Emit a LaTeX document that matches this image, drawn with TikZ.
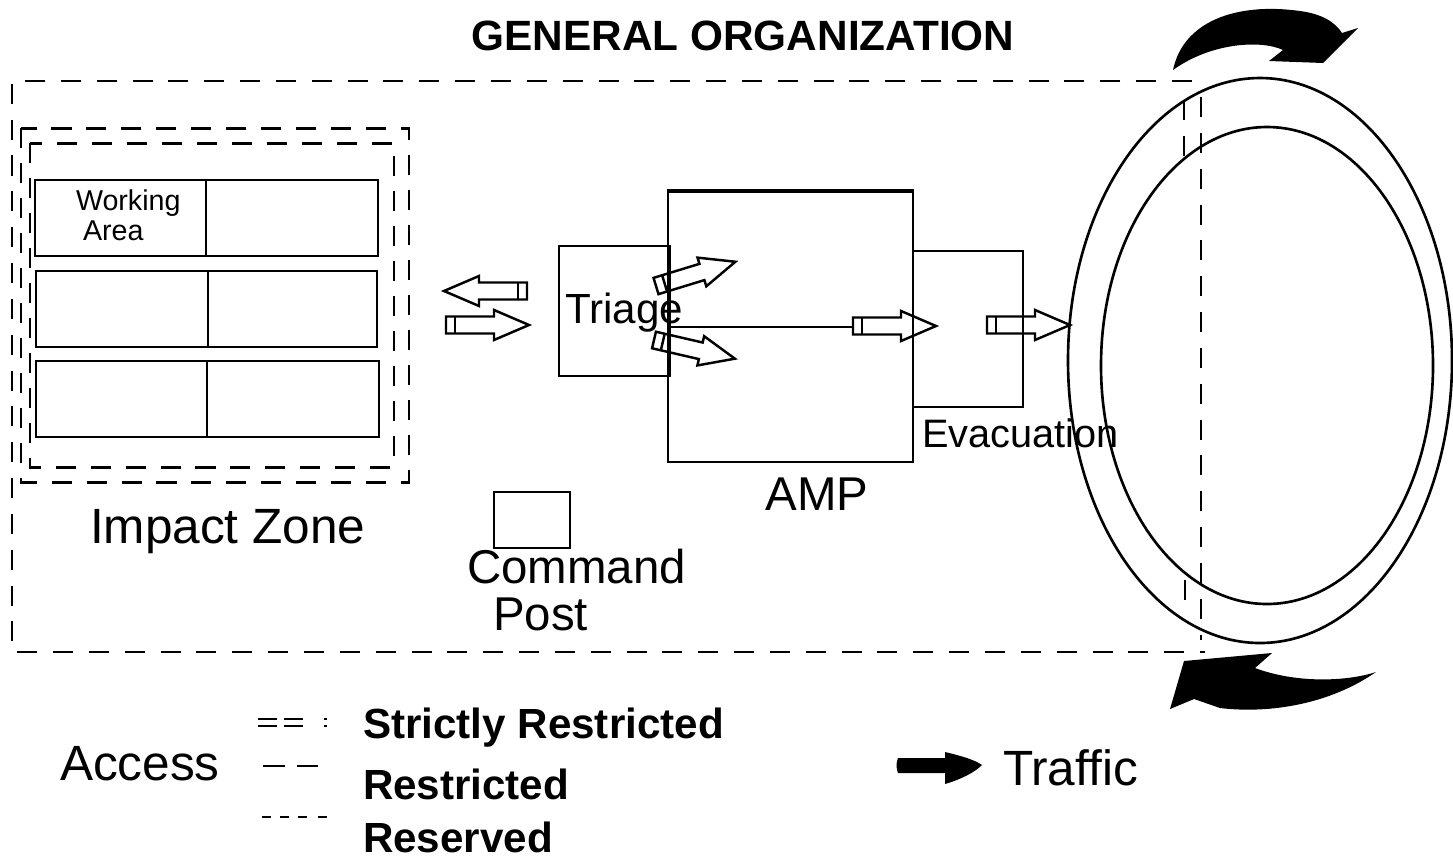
\documentclass[tikz,border=0pt]{standalone}
\usepackage{fontspec}
\setmainfont{Liberation Sans}
\begin{document}
\begin{tikzpicture}[x=0.02cm, y=-0.02cm,
  every node/.style={inner sep=0pt, outer sep=0pt},
  boxline/.style={line width=1.5pt},
  zoneline/.style={line width=1.7pt, dash pattern=on 11.4pt off 8.5pt},
  arealine/.style={line width=1.2pt, dash pattern=on 11.4pt off 9pt},
  ringline/.style={line width=1.5pt},
  hollow/.style={draw, line width=1.4pt, line join=miter},
  legendline/.style={line width=1.2pt},
  titletext/.style={font=\fontsize{24.1}{26}\selectfont\bfseries},
  legendtext/.style={font=\fontsize{24}{26}\selectfont\bfseries},
  bigtext/.style={font=\fontsize{28.2}{30}\selectfont},
  midtext/.style={font=\fontsize{27}{29}\selectfont},
  labeltext/.style={font=\fontsize{24}{26}\selectfont},
  smalltext/.style={font=\fontsize{16.3}{18}\selectfont},
  pics/blockarrow/.style={code={
    \draw[hollow] (0,-8.5) -- (48,-8.5) -- (48,-15) -- (83,0) -- (48,15)
      -- (48,8.5) -- (0,8.5) -- cycle;
    \draw[line width=1.4pt] (9,-8.5) -- (9,8.5);
  }}
]
\useasboundingbox (0,0) rectangle (1453,860);

% title
\node[titletext, anchor=base] (title) at (743,50) {GENERAL ORGANIZATION};

% reserved area: outer frame
\draw[arealine] (1192,81) -- (12,81) -- (12,652) -- (1205,652);
\draw[arealine] (1201,97) -- (1201,640);

% impact zone: strictly restricted double frame
\draw[zoneline] (21,128) rectangle (409,482);
\draw[zoneline] (30,143) rectangle (394,467);

% working areas
\draw[boxline] (35,180) rectangle (378,256);
\draw[boxline] (206,180) -- (206,256);
\draw[boxline] (36,271) rectangle (377,347);
\draw[boxline] (208,271) -- (208,347);
\draw[boxline] (36,361) rectangle (379,437);
\draw[boxline] (207,361) -- (207,437);
\node[smalltext, anchor=base west] (working) at (76,210) {Working};
\node[smalltext, anchor=base west] (area) at (83,240) {Area};
\node[bigtext, anchor=base west] (impact) at (90,543) {Impact Zone};

% exchange between impact zone and triage
\pic[rotate=180] at (527,291) {blockarrow};
\pic at (446,325) {blockarrow};

% triage, AMP and evacuation
\draw[boxline] (559,246) rectangle (670,376);
\draw[boxline] (668,191) -- (668,462) -- (913,462) -- (913,191);
\draw[line width=2.4pt] (667,191) -- (914,191);
\draw[boxline] (913,251) -- (1023,251) -- (1023,407) -- (913,407);
\draw[boxline] (668,327) -- (853,327);
\node[labeltext, anchor=base west] (triage) at (565,323) {Triage};
\node[midtext, anchor=base] (amp) at (817,510) {AMP};
\node[font=\fontsize{22.6}{24}\selectfont, anchor=base west] (evac) at (922,447) {Evacuation};

\pic[rotate=17] at (656,286) {blockarrow};
\pic[rotate=-13] at (654,340) {blockarrow};
\pic at (853,326) {blockarrow};
\pic at (987,325) {blockarrow};

% command post
\draw[boxline] (494,492) rectangle (570,548);
\node[midtext, anchor=base west] (command) at (467,583) {Command};
\node[midtext, anchor=base west] (post) at (493,630) {Post};

% traffic ring
\draw[ringline] (1260,360.5) ellipse [x radius=192, y radius=282.5];
\draw[ringline] (1267,365.5) ellipse [x radius=166, y radius=238.5];
\draw[arealine] (1184,100) -- (1184,157);
\draw[arealine] (1185,580) -- (1185,600);

% traffic direction
\fill (1173,70) .. controls (1183,22) and (1235,2) .. (1300,11)
  .. controls (1322,14) and (1335,22) .. (1342,33) -- (1358,28) -- (1323,63)
  -- (1269,61) -- (1283,50) .. controls (1262,40) and (1212,42) .. (1173,70) -- cycle;
\fill (1376,672) .. controls (1330,704) and (1270,714) .. (1220,708)
  -- (1194,699) -- (1170,709) -- (1184,661) -- (1272,653) -- (1255,668)
  .. controls (1295,683) and (1345,682) .. (1376,672) -- cycle;

% legend
\node[bigtext, anchor=base west] (access) at (60,780) {Access};
\node[legendtext, anchor=base west] (strict) at (363,738) {Strictly Restricted};
\node[legendtext, anchor=base west] (restr) at (363,799) {Restricted};
\node[legendtext, anchor=base west] (reserv) at (363,852) {Reserved};
\foreach \yy in {719,726} {
  \draw[legendline] (258,\yy) -- (277,\yy);
  \draw[legendline] (284,\yy) -- (303,\yy);
  \draw[legendline] (324,\yy) -- (327,\yy);
}
\draw[legendline] (263,766) -- (285,766);
\draw[legendline] (297,766) -- (318,766);
\foreach \xx in {262,280,298,318} {
  \draw[legendline] (\xx,817) -- (\xx+9,817);
}
\fill (898,758) -- (945,758) -- (945,752) .. controls (962,756) and (975,760) .. (982,765)
  .. controls (975,772) and (962,779) .. (945,784) -- (945,773) -- (898,773)
  .. controls (896,768) and (896,763) .. (898,758) -- cycle;
\node[bigtext, anchor=base west] (traffic) at (1003,785) {Traffic};
\end{tikzpicture}
\end{document}
